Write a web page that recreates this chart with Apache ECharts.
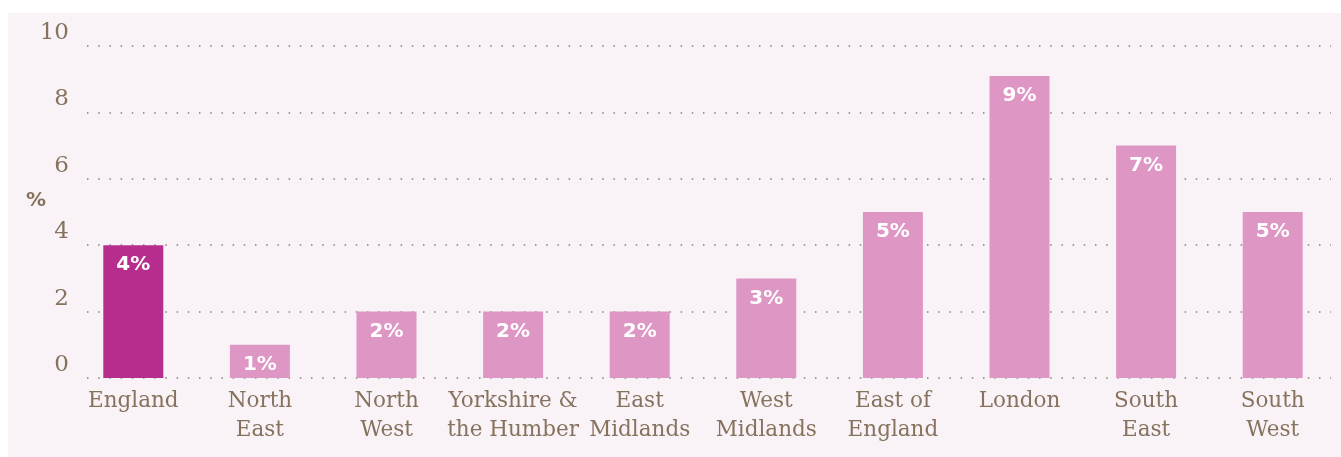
<!DOCTYPE html>
<html>
<head>
<meta charset="utf-8">
<script src="https://cdn.jsdelivr.net/npm/echarts@6/dist/echarts.min.js"></script>
<style>
html,body{margin:0;padding:0;background:#ffffff;}
#chart{width:1341px;height:457px;}
</style>
</head>
<body>
<div id="chart"></div>
<script>
const categories = ["England", "North\nEast", "North\nWest", "Yorkshire &\nthe Humber", "East\nMidlands", "West\nMidlands", "East of\nEngland", "London", "South\nEast", "South\nWest"];
const values = [4.0, 1.0, 2.0, 2.0, 2.0, 3.0, 5.0, 9.1, 7.0, 5.0];
const valueLabels = ["4%", "1%", "2%", "2%", "2%", "3%", "5%", "9%", "7%", "5%"];
const yTicks = [0, 2, 4, 6, 8, 10];

const brown = '#86725d';
const chart = echarts.init(document.getElementById('chart'));
chart.setOption({
  backgroundColor: '#ffffff',
  animation: false,
  graphic: [{
    type: 'rect', z: -10, silent: true,
    shape: {x: 8, y: 13, width: 1333, height: 444},
    style: {fill: '#f9f3f7'}
  }],
  grid: [
    {left: 70, right: 5, top: 46, bottom: 79},
    {left: 87, right: 10, top: 46, bottom: 79}
  ],
  xAxis: [
    {
      type: 'category', gridIndex: 0, data: categories,
      axisLine: {show: false}, axisTick: {show: false},
      axisLabel: {
        color: brown, fontFamily: 'DejaVu Serif', fontSize: 21.5,
        lineHeight: 29, margin: 9, interval: 0
      }
    },
    {type: 'value', gridIndex: 1, show: false, min: 0, max: 1}
  ],
  yAxis: [
    {type: 'value', gridIndex: 0, min: 0, max: 10, interval: 2, show: false},
    {
      type: 'value', gridIndex: 1, min: yTicks[0], max: yTicks[yTicks.length - 1], interval: 2,
      axisLine: {show: false}, axisTick: {show: false},
      axisLabel: {
        color: brown, fontFamily: 'DejaVu Serif', fontSize: 23,
        margin: 18, verticalAlign: 'bottom', lineHeight: 24, padding: [0, 0, 1, 0]
      },
      splitLine: {lineStyle: {color: '#85807b', width: 1.5, type: [1.5, 9.7]}},
      name: '%', nameLocation: 'middle', nameRotate: 0, nameGap: 41, nameMoveOverlap: false,
      nameTextStyle: {color: brown, fontFamily: 'DejaVu Sans', fontWeight: 'bold', fontSize: 20, verticalAlign: 'bottom', padding: [0, 0, 1, 0]}
    }
  ],
  series: [{
    type: 'bar', xAxisIndex: 0, yAxisIndex: 0,
    barWidth: 60,
    data: values.map((v, i) => ({
      value: v,
      itemStyle: {color: i === 0 ? '#b72d8e' : '#de96c4'}
    })),
    label: {
      show: true, position: 'insideTop', distance: 10,
      color: '#ffffff', fontFamily: 'DejaVu Sans', fontWeight: 'bold', fontSize: 20,
      formatter: p => valueLabels[p.dataIndex]
    }
  }]
});
</script>
</body>
</html>
